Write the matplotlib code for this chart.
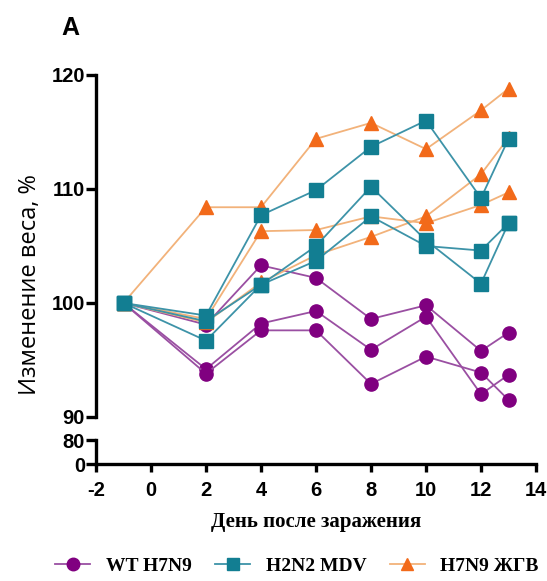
import matplotlib
matplotlib.use("Agg")
import matplotlib.pyplot as plt
from matplotlib.lines import Line2D

plt.rcParams["axes.unicode_minus"] = False

# Days post infection
days = [-1, 2, 4, 6, 8, 10, 12, 13]

# Individual body weight curves, % of initial weight
wt_h7n9 = [
    [100, 98.1, 103.3, 102.2, 98.6, 99.8, 95.8, 97.4],
    [100, 94.2, 98.2, 99.3, 95.9, 98.8, 92.0, 93.7],
    [100, 93.8, 97.6, 97.6, 92.9, 95.3, 93.9, 91.5],
]
h2n2_mdv = [
    [100, 98.9, 107.7, 109.9, 113.7, 116.0, 109.2, 114.4],
    [100, 98.4, 101.6, 105.0, 110.2, 105.5, 101.7, 107.0],
    [100, 96.7, 101.6, 103.7, 107.6, 105.0, 104.6, 107.0],
]
h7n9_lav = [
    [100, 108.4, 108.4, 114.4, 115.8, 113.5, 116.9, 118.8],
    [100, 98.6, 106.3, 106.4, 107.6, 107.0, 108.6, 109.7],
    [100, 98.3, 101.8, 104.2, 105.8, 107.6, 111.3, 114.5],
]

group_names = ["WT H7N9", "H2N2 MDV", "H7N9 ЖГВ"]
x_ticks = [-2, 0, 2, 4, 6, 8, 10, 12, 14]
upper_ticks = [90, 100, 110, 120]
lower_ticks = [0, 80]

styles = [
    # (data, marker, marker colour, line colour, zorder)
    (wt_h7n9, "o", "#800080", "#9A4FA2", 3),
    (h7n9_lav, "^", "#F26A1A", "#F2B27A", 4),
    (h2n2_mdv, "s", "#127E92", "#3D93A8", 5),
]

W, H = 547, 581
fig = plt.figure(figsize=(W / 100, H / 100), dpi=100)

def px_axes(x0, y_top, x1, y_bot):
    return fig.add_axes([x0 / W, (H - y_bot) / H, (x1 - x0) / W, (y_bot - y_top) / H])

ax_top = px_axes(96, 75, 536, 417)
ax_bot = px_axes(96, 440, 536, 464)

tick_font = dict(family="Liberation Sans", weight="bold", size=14.5)

for ax in (ax_top, ax_bot):
    ax.set_xlim(-2, 14)
    ax.patch.set_visible(False)
    for s in ("top", "right"):
        ax.spines[s].set_visible(False)
    ax.spines["left"].set_linewidth(2.4)
    ax.spines["bottom"].set_linewidth(2.4)
    ax.tick_params(width=2.4, length=7, direction="out", pad=1)

ax_top.spines["bottom"].set_visible(False)
ax_top.set_ylim(90, 120)
ax_top.set_yticks(upper_ticks)
ax_top.set_xticks([])

ax_bot.set_ylim(0, 80)
ax_bot.set_yticks(lower_ticks)
ax_bot.set_xticks(x_ticks)
ax_bot.tick_params(axis="x", length=6, pad=6)

for ax in (ax_top, ax_bot):
    for lab in ax.get_yticklabels() + ax.get_xticklabels():
        lab.set_fontproperties(tick_font)

for data, marker, mcol, lcol, z in styles:
    for series in data:
        ax_top.plot(days, series, color=lcol, lw=1.3, zorder=z,
                    marker=marker, markersize=9.5 if marker != "^" else 10,
                    markerfacecolor=mcol, markeredgecolor=mcol, clip_on=False)

fig.text(70 / W, 1 - 28 / H, "A", fontsize=18, fontweight="bold",
         family="Liberation Sans", ha="center", va="center")

fig.text(30 / W, 1 - 285 / H, "Изменение веса, %", rotation=90,
         fontsize=17, family="Open Sans", ha="center", va="center")

fig.text(316 / W, 1 - 522 / H, "День после заражения", fontsize=15,
         fontweight="bold", family="Liberation Serif", ha="center", va="center")

handles = [
    Line2D([], [], color=lcol, lw=1.3, marker=marker, markersize=9,
           markerfacecolor=mcol, markeredgecolor=mcol)
    for (data, marker, mcol, lcol, z) in styles
]
handles = [handles[0], handles[2], handles[1]]
fig.legend(handles, group_names, loc="center", bbox_to_anchor=(297 / W, 1 - 566 / H),
           ncol=3, frameon=False, handlelength=1.8, columnspacing=1.2,
           handletextpad=0.8, borderpad=0, borderaxespad=0,
           prop=dict(family="Liberation Serif", weight="bold", size=14))

fig.savefig("out.png", dpi=100)
